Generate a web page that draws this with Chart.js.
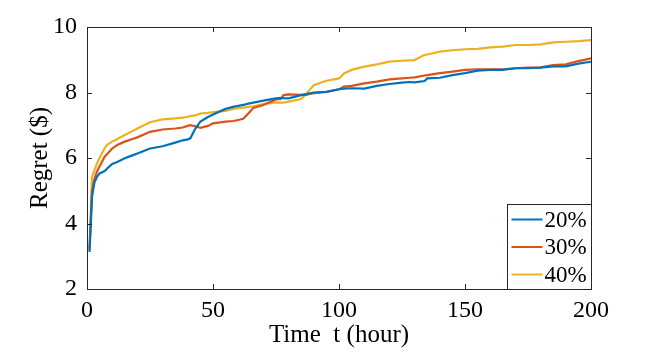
<!DOCTYPE html>
<html>
<head>
<meta charset="utf-8">
<script src="https://cdn.jsdelivr.net/npm/chart.js@4.4.1/dist/chart.umd.min.js"></script>
<style>
  html, body { margin: 0; padding: 0; background: #fff; }
  #wrap { width: 664px; height: 363px; }
</style>
</head>
<body>
<div id="wrap"><canvas id="regretChart" width="664" height="363"></canvas></div>
<script>
// time axis (hours) and regret for each share
const timeHours = [1, 2, 3, 4, 5, 7, 8, 10, 12, 15, 18, 20, 25, 30, 35, 38, 40, 41, 43, 45, 48, 50, 55, 58, 60, 62, 64, 66, 70, 75, 77, 78, 80, 85, 87, 88, 90, 95, 100, 102, 105, 110, 115, 120, 125, 128, 130, 134, 135, 140, 145, 150, 155, 160, 165, 170, 175, 180, 185, 190, 195, 200];
const regret20 = [3.13, 4.82, 5.27, 5.43, 5.53, 5.60, 5.68, 5.82, 5.88, 5.99, 6.08, 6.14, 6.29, 6.36, 6.47, 6.54, 6.57, 6.60, 6.90, 7.11, 7.25, 7.33, 7.50, 7.56, 7.59, 7.62, 7.66, 7.69, 7.75, 7.82, 7.84, 7.83, 7.82, 7.92, 7.95, 7.97, 8.00, 8.02, 8.10, 8.12, 8.13, 8.12, 8.20, 8.26, 8.30, 8.32, 8.31, 8.35, 8.43, 8.45, 8.53, 8.59, 8.67, 8.69, 8.69, 8.74, 8.74, 8.76, 8.80, 8.80, 8.88, 8.94];
const regret30 = [3.20, 5.02, 5.38, 5.59, 5.75, 6.04, 6.12, 6.29, 6.40, 6.50, 6.58, 6.63, 6.80, 6.87, 6.90, 6.93, 6.98, 7.00, 6.97, 6.92, 6.98, 7.06, 7.11, 7.13, 7.16, 7.20, 7.36, 7.53, 7.62, 7.79, 7.80, 7.92, 7.94, 7.93, 7.93, 7.95, 7.98, 8.02, 8.10, 8.18, 8.20, 8.28, 8.33, 8.40, 8.43, 8.45, 8.46, 8.52, 8.53, 8.59, 8.64, 8.69, 8.71, 8.71, 8.71, 8.74, 8.76, 8.77, 8.84, 8.86, 8.96, 9.04];
const regret40 = [3.25, 5.43, 5.63, 5.84, 6.00, 6.30, 6.40, 6.50, 6.58, 6.70, 6.82, 6.90, 7.09, 7.18, 7.21, 7.23, 7.26, 7.28, 7.30, 7.36, 7.38, 7.40, 7.44, 7.50, 7.52, 7.54, 7.56, 7.58, 7.65, 7.70, 7.69, 7.69, 7.72, 7.80, 7.95, 8.05, 8.22, 8.36, 8.43, 8.58, 8.69, 8.79, 8.86, 8.94, 8.97, 8.98, 8.99, 9.15, 9.16, 9.25, 9.29, 9.32, 9.33, 9.38, 9.40, 9.45, 9.45, 9.47, 9.53, 9.55, 9.57, 9.60];
const seriesLabels = ['20%', '30%', '40%'];
const xTicks = [0, 50, 100, 150, 200];
const yTicks = [2, 4, 6, 8, 10];

const serif = "'Liberation Serif', 'Times New Roman', serif";
const axisColor = '#262626';

function toPoints(values) {
    return timeHours.map((t, i) => ({ x: t, y: values[i] }));
}

// MATLAB style box with inward ticks plus the legend in the lower right corner
const matlabBox = {
    id: 'matlabBox',
    afterDraw(chart) {
        const ctx = chart.ctx;
        const area = chart.chartArea;
        const xs = chart.scales.x;
        const ys = chart.scales.y;
        ctx.save();
        ctx.strokeStyle = axisColor;
        ctx.lineWidth = 1;
        ctx.strokeRect(area.left + 0.5, area.top + 0.5, area.right - area.left, area.bottom - area.top);
        ctx.beginPath();
        xTicks.forEach(v => {
            const px = Math.round(xs.getPixelForValue(v)) + 0.5;
            ctx.moveTo(px, area.bottom); ctx.lineTo(px, area.bottom - 5);
            ctx.moveTo(px, area.top); ctx.lineTo(px, area.top + 5);
        });
        yTicks.forEach(v => {
            const py = Math.round(ys.getPixelForValue(v)) + 0.5;
            ctx.moveTo(area.left, py); ctx.lineTo(area.left + 5, py);
            ctx.moveTo(area.right, py); ctx.lineTo(area.right - 5, py);
        });
        ctx.stroke();

        // legend
        const boxW = 84, boxH = 85;
        const bx = Math.round(area.right - boxW) + 0.5;
        const by = Math.round(area.bottom - boxH) + 0.5;
        ctx.fillStyle = '#fff';
        ctx.fillRect(bx, by, boxW, boxH);
        ctx.strokeStyle = axisColor;
        ctx.strokeRect(bx, by, boxW, boxH);
        ctx.font = '23px ' + serif;
        ctx.textBaseline = 'middle';
        ctx.textAlign = 'left';
        chart.data.datasets.forEach((ds, i) => {
            const ly = by + 15 + i * 27.5;
            ctx.strokeStyle = ds.borderColor;
            ctx.lineWidth = 2;
            ctx.beginPath();
            ctx.moveTo(bx + 4, ly);
            ctx.lineTo(bx + 35, ly);
            ctx.stroke();
            ctx.fillStyle = '#000';
            ctx.fillText(ds.label, bx + 37, ly + 1);
        });
        ctx.restore();
    }
};

const ctxRegret = document.getElementById('regretChart').getContext('2d');
const regretChart = new Chart(ctxRegret, {
    type: 'line',
    data: {
        datasets: [{
            label: seriesLabels[0],
            data: toPoints(regret20),
            borderColor: '#0072BD',
            borderWidth: 2.2,
            pointRadius: 0,
            fill: false
        }, {
            label: seriesLabels[1],
            data: toPoints(regret30),
            borderColor: '#D95319',
            borderWidth: 2.2,
            pointRadius: 0,
            fill: false
        }, {
            label: seriesLabels[2],
            data: toPoints(regret40),
            borderColor: '#EDB120',
            borderWidth: 2.2,
            pointRadius: 0,
            fill: false
        }]
    },
    options: {
        responsive: false,
        animation: false,
        layout: { padding: { left: 0, top: 27, right: 73, bottom: 0 } },
        plugins: {
            legend: { display: false },
            tooltip: { enabled: false }
        },
        scales: {
            x: {
                type: 'linear',
                min: 0,
                max: 200,
                afterBuildTicks: s => { s.ticks = xTicks.map(v => ({ value: v })); },
                afterFit: s => { s.height = 74; },
                grid: { display: false, drawTicks: false },
                border: { display: false },
                ticks: { color: '#000', font: { family: serif, size: 24 }, padding: 7, maxRotation: 0 },
                title: { display: true, text: 'Time  t (hour)', color: '#000', font: { family: serif, size: 25 }, padding: { top: 0, bottom: 13 } }
            },
            y: {
                min: 2,
                max: 10,
                afterBuildTicks: s => { s.ticks = yTicks.map(v => ({ value: v })); },
                afterFit: s => { s.width = 87; },
                grid: { display: false, drawTicks: false },
                border: { display: false },
                ticks: { color: '#000', font: { family: serif, size: 24 }, padding: 10 },
                title: { display: true, text: 'Regret ($)', color: '#000', font: { family: serif, size: 25 }, padding: { top: 25, bottom: 0 } }
            }
        }
    },
    plugins: [matlabBox]
});
</script>
</body>
</html>
